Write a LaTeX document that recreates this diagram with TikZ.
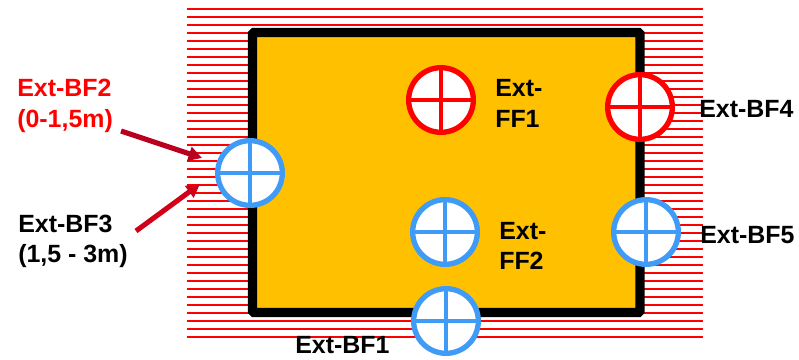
\documentclass[tikz,border=0pt]{standalone}
\usepackage{fontspec}
\setmainfont{Liberation Sans}
\usetikzlibrary{arrows.meta}
\definecolor{wallfill}{HTML}{FFC000}
\definecolor{sensblue}{HTML}{3F9BF5}
\definecolor{arrowA}{HTML}{B80020}
\definecolor{arrowB}{HTML}{D00018}
\tikzset{
 x=0.75pt,y=-0.75pt,
 hatchA/.style={draw=red!30,line width=1.5pt},
 hatchB/.style={draw=red,line width=0.8pt},
 wall/.style={draw=black,fill=wallfill,line width=6.9pt,rounded corners=1pt},
 lbl/.style={font=\bfseries\fontsize{18.7}{22.5}\selectfont,inner sep=0pt,anchor=base west,align=left},
 pointer/.style={line width=3.8pt,-{Triangle[length=10pt,width=10.5pt]}},
 ringpart/.style={line width=3.4pt},
}
\newcommand{\sensor}[3]{%
 \node[circle,draw=#3,fill=white,line width=4pt,minimum size=48.5pt,inner sep=0pt] (#1) at (#2) {};
 \draw[#3,ringpart] (#1.north) -- (#1.south);
 \draw[#3,ringpart] (#1.west) -- (#1.east);
}
\begin{document}
\begin{tikzpicture}
\useasboundingbox (0,0) rectangle (799,360);
\foreach \k in {0,...,41}{
 \pgfmathtruncatemacro{\yy}{9+8*\k}
 \pgfmathtruncatemacro{\md}{mod(\k,2)}
 \coordinate (hl\k) at (187,\yy);
 \coordinate (hr\k) at (703,\yy);
 \ifnum\md=0
  \draw[hatchA] (hl\k) -- (hr\k);
 \fi
 \draw[hatchB] (hl\k) -- (hr\k);
}
\draw[wall] (252.5,32.5) rectangle (640,312.5);
\sensor{ff1}{441,100}{red}
\sensor{bf4}{640,107}{red}
\sensor{bfw}{250,173}{sensblue}
\sensor{ff2}{445,232}{sensblue}
\sensor{bf5}{646,232}{sensblue}
\sensor{bf1}{446,321}{sensblue}
\node[lbl,text=red] (tb2) at (17,97) {Ext-BF2};
\node[lbl,text=red] (tb2b) at (17,127) {(0-1,5m)};
\node[lbl] (tb3) at (18,232) {Ext-BF3};
\node[lbl] (tb3b) at (18,262) {(1,5 - 3m)};
\node[lbl] (tb4) at (699,117) {Ext-BF4};
\node[lbl] (tb5) at (700,243) {Ext-BF5};
\node[lbl] (tb1) at (295,353) {Ext-BF1};
\node[lbl] (tf1) at (495,97) {Ext-};
\node[lbl] (tf1b) at (495,127) {FF1};
\node[lbl] (tf2) at (499,239) {Ext-};
\node[lbl] (tf2b) at (499,269) {FF2};
\coordinate (a1) at (121,131);
\coordinate (a2) at (202,158);
\coordinate (b1) at (136,231);
\coordinate (b2) at (200,184);
\draw[pointer,draw=arrowA,fill=arrowA] (a1) -- (a2);
\draw[pointer,draw=arrowB,fill=arrowB] (b1) -- (b2);
\end{tikzpicture}
\end{document}
